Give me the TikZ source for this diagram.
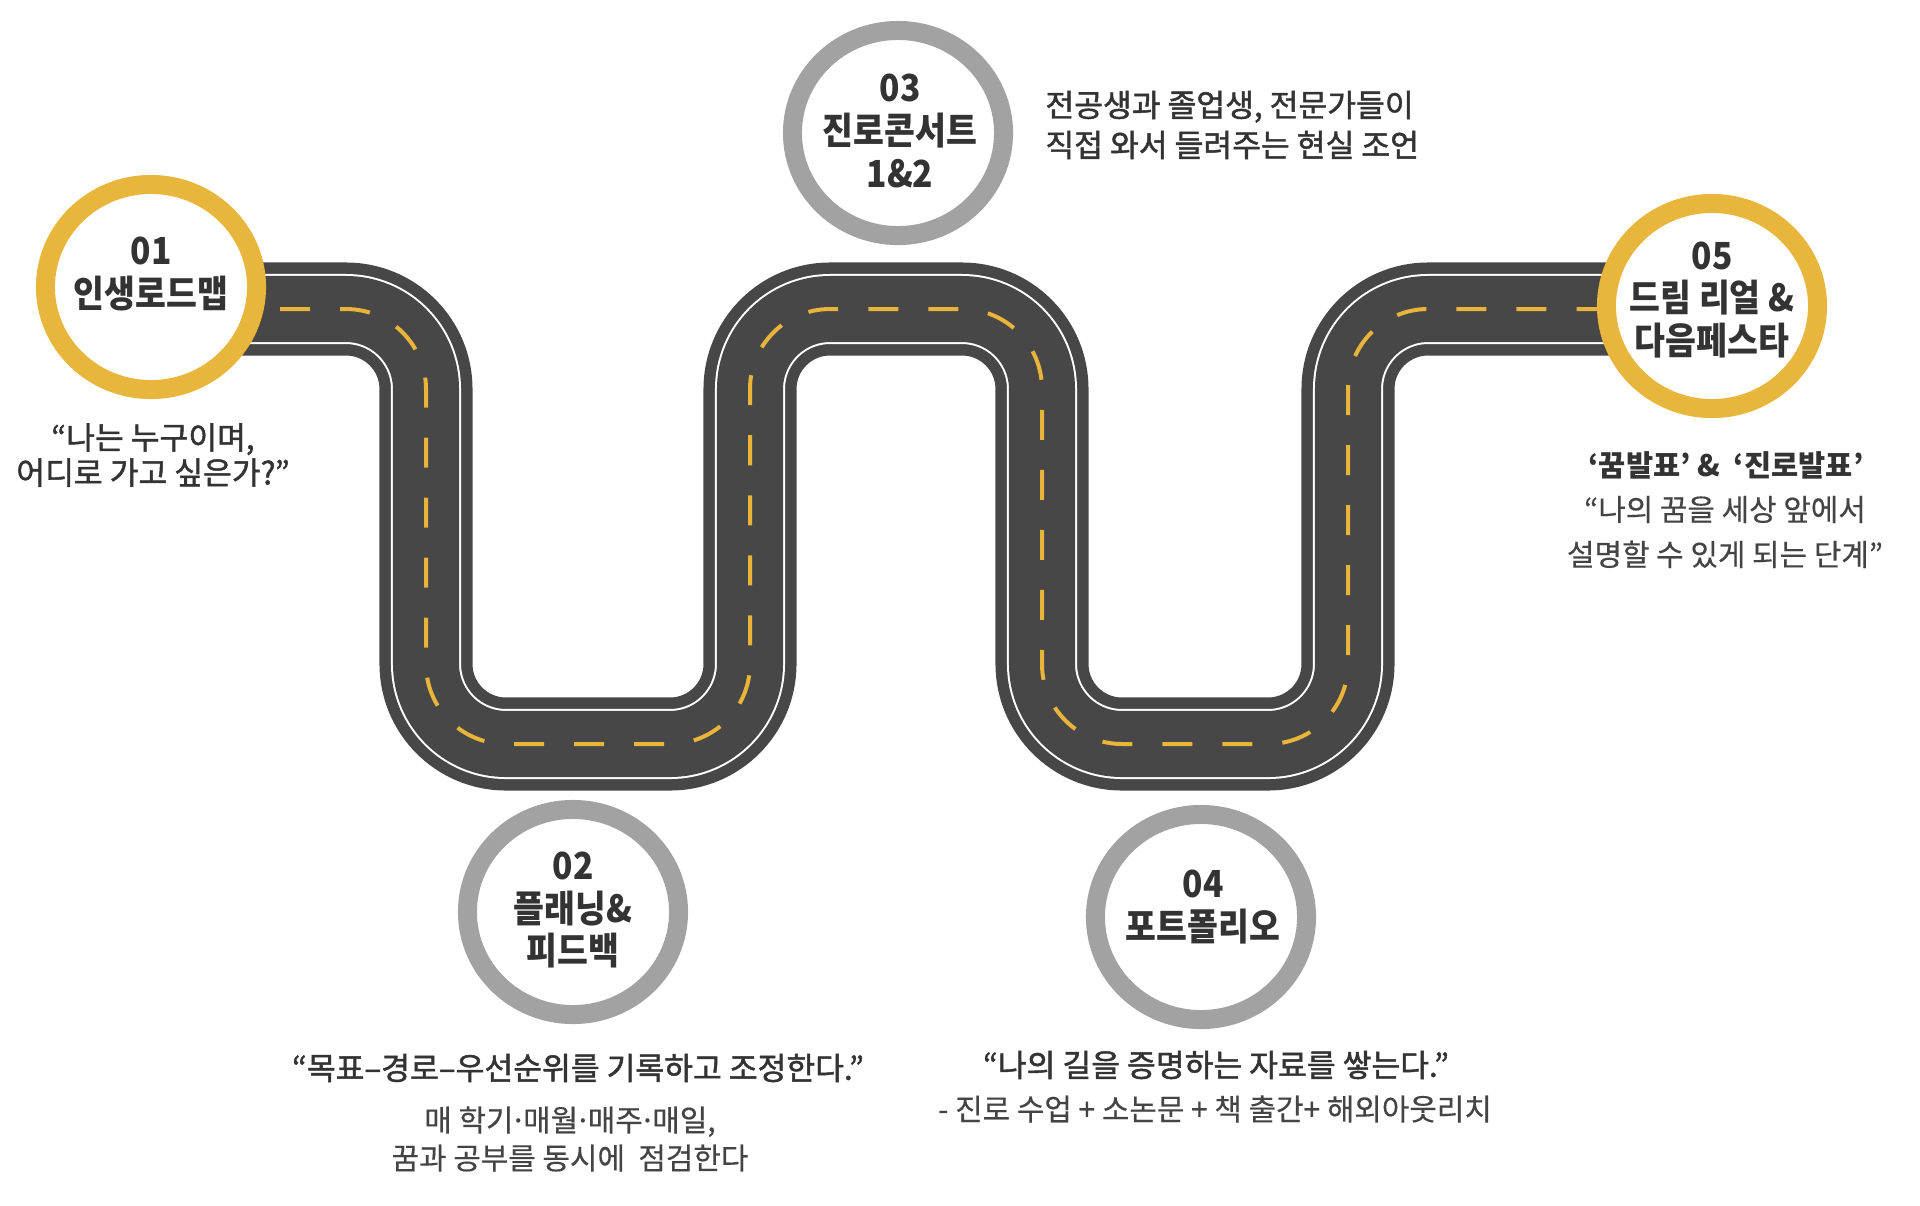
\documentclass[tikz,border=0pt]{standalone}
\usepackage{fontspec}
\usepackage{tikz}
\usetikzlibrary{shapes.geometric,positioning}
\newfontfamily\kr{Noto Sans CJK KR}
\newfontfamily\krhead[FakeStretch=0.9]{Noto Sans CJK KR}
\newfontfamily\krsemi[FakeBold=1.5]{Noto Sans CJK KR}
\newfontfamily\krnote[FakeBold=0.4]{Noto Sans CJK KR}
\newcommand\mdot{\kern-0.12em·\kern-0.12em}
\definecolor{ringgold}{HTML}{E8B63C}
\definecolor{ringgray}{HTML}{A2A2A2}
\definecolor{roadgray}{HTML}{474747}
\definecolor{lane}{HTML}{E9B43A}
\definecolor{ink}{HTML}{333333}
\definecolor{inksoft}{HTML}{444444}

\begin{document}
\begin{tikzpicture}[x=0.01cm,y=-0.01cm,
    ring/.style={ellipse,draw=#1,line width=0.19cm,fill=white,
      minimum width=2.11cm,minimum height=2.05cm,inner sep=0pt},
    title/.style={font=\krhead\bfseries\fontsize{10.6}{12.2}\selectfont,text=ink,align=center},
    quote/.style={font=\krsemi\fontsize{8.9}{#1}\selectfont,text=ink,align=center},
    quote/.default=11.5,
    note/.style={font=\krnote\fontsize{8.5}{#1}\selectfont,text=inksoft,align=center},
    note/.default=11.5,
    road/.style={rounded corners=0.8cm,draw=roadgray,line width=0.93cm,
      postaction={draw=white,line width=0.70cm},
      postaction={draw=roadgray,line width=0.66cm},
      postaction={draw=lane,line width=0.04cm,dash pattern=on 0.3cm off 0.3cm}}]
  \useasboundingbox (0,0) rectangle (1920,1205);

  % the road
  \coordinate (r0) at (160,309);
  \coordinate (r1) at (426,309);
  \coordinate (r2) at (426,744);
  \coordinate (r3) at (750,744);
  \coordinate (r4) at (750,309);
  \coordinate (r5) at (1042,309);
  \coordinate (r6) at (1042,744);
  \coordinate (r7) at (1348,744);
  \coordinate (r8) at (1348,309);
  \coordinate (r9) at (1700,309);
  \path[road] (r0) -- (r1) -- (r2) -- (r3) -- (r4) -- (r5) -- (r6) -- (r7) -- (r8) -- (r9);

  % stations
  \foreach \n/\c/\p in {1/ringgold/{151,287},2/ringgray/{573,912},3/ringgray/{898,133},
                        4/ringgray/{1201,917},5/ringgold/{1712,306}} {
    \node[ring=\c] (s\n) at (\p) {};
  }
  \node[title] (t1) at (151,274) {01\\인생로드맵};
  \node[title] (t2) at (573,910) {02\\플래닝\&\\피드백};
  \node[title] (t3) at (900,131) {03\\진로콘서트\\1\&2};
  \node[title] (t4) at (1203,907) {04\\포트폴리오};
  \node[title] (t5) at (1712,300) {05\\드림 리얼 \&\\다음페스타};

  % texts
  \node[quote=10] (d1) at (153,455) {“나는 누구이며,\\어디로 가고 싶은가?”};
  \node[quote=11.4,anchor=west,align=left] (d3) at (1033,125)
    {전공생과 졸업생, 전문가들이\\직접 와서 들려주는 현실 조언};
  \node[title,font=\kr\bfseries\fontsize{8.4}{12}\selectfont] (q5) at (1726,465) {‘꿈발표’ \&~ ‘진로발표’};
  \node[note=12.8] (d5) at (1725,532) {“나의 꿈을 세상 앞에서\\설명할 수 있게 되는 단계”};
  \node[quote] (q2) at (578,1068) {“목표–경로–우선순위를 기록하고 조정한다.”};
  \node[note=10.8] (d2) at (570,1139) {매 학기\mdot 매월\mdot 매주\mdot 매일,\\꿈과 공부를 동시에~ 점검한다};
  \node[quote] (q4) at (1216,1065) {“나의 길을 증명하는 자료를 쌓는다.”};
  \node[note] (d4) at (1215,1109) {- 진로 수업 + 소논문 + 책 출간+ 해외아웃리치};
\end{tikzpicture}
\end{document}
